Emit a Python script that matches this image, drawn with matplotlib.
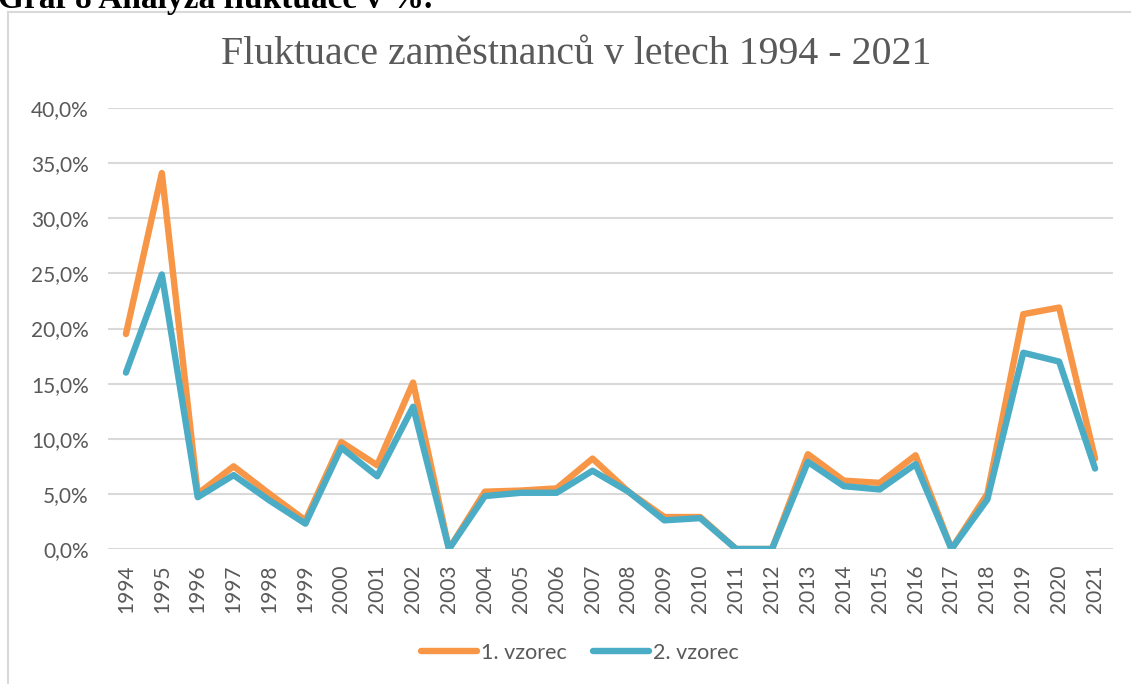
import matplotlib.pyplot as plt
from matplotlib.lines import Line2D
from matplotlib.ticker import FuncFormatter

years = [str(y) for y in range(1994, 2022)]
vzorec_1 = [19.5, 34.1, 5.0, 7.5, 5.0, 2.6, 9.7, 7.6, 15.1, 0.0,
            5.2, 5.3, 5.5, 8.2, 5.2, 2.9, 2.9, 0.0, 0.0, 8.6,
            6.2, 6.0, 8.5, 0.0, 5.0, 21.3, 21.9, 8.2]
vzorec_2 = [16.0, 24.9, 4.7, 6.7, 4.4, 2.3, 9.2, 6.6, 12.9, 0.0,
            4.8, 5.1, 5.1, 7.1, 5.2, 2.6, 2.8, 0.0, 0.0, 7.9,
            5.7, 5.4, 7.7, 0.0, 4.5, 17.8, 17.0, 7.3]
series_names = ['1. vzorec', '2. vzorec']
colors = ['#F79646', '#4BACC6']

W, H = 1131, 684
fig = plt.figure(figsize=(W / 100, H / 100), dpi=100)
ax = fig.add_axes([108 / W, 1 - 549 / H, (1113 - 108) / W, (549 - 108) / H])

x = range(len(years))
for vals, name, c in zip([vzorec_1, vzorec_2], series_names, colors):
    ax.plot(x, [v / 100 for v in vals], color=c, lw=4.6, label=name,
            solid_joinstyle='round', solid_capstyle='round')

ax.set_xlim(-0.5, len(years) - 0.5)
ax.set_ylim(0, 0.40)
ax.set_yticks([i * 0.05 for i in range(9)])
ax.yaxis.set_major_formatter(FuncFormatter(lambda v, p: f'{v * 100:.1f}%'.replace('.', ',')))
ax.set_xticks(list(x))
ax.set_xticklabels(years, rotation=90)
ax.grid(axis='y', color='#D9D9D9', lw=1.5)
ax.set_axisbelow(True)
for s in ax.spines.values():
    s.set_visible(False)
ax.tick_params(length=0, colors='#595959', labelsize=15)
ax.tick_params(axis='x', pad=11)
ax.tick_params(axis='y', pad=14)
for lbl in ax.get_xticklabels() + ax.get_yticklabels():
    lbl.set_family('Lato')

fig.text(576 / W, 1 - 55 / H, 'Fluktuace zaměstnanců v letech 1994 - 2021',
         ha='center', va='center', fontsize=28.7, color='#595959', family='Liberation Serif')

# bold caption above the chart, mostly cut off at the top edge (as in the source)
fig.text(-2 / W, 1 - 8 / H, 'Graf 8 Analýza fluktuace v %.', ha='left', va='baseline',
         fontsize=24, fontweight='bold', family='Liberation Serif', color='black')

# chart frame
fig.add_artist(Line2D([8 / W, 8 / W], [0, 1 - 12 / H], color='#D9D9D9', lw=1.5))
fig.add_artist(Line2D([8 / W, 1], [1 - 12 / H, 1 - 12 / H], color='#D9D9D9', lw=1.5))

leg = fig.legend(loc='center', bbox_to_anchor=(580 / W, 1 - 653 / H), ncol=2, frameon=False,
                 prop={'family': 'Lato', 'size': 15.5}, handlelength=2.6, handletextpad=0.2,
                 columnspacing=1.2)
for t in leg.get_texts():
    t.set_color('#595959')

fig.savefig('out.png', dpi=100)
